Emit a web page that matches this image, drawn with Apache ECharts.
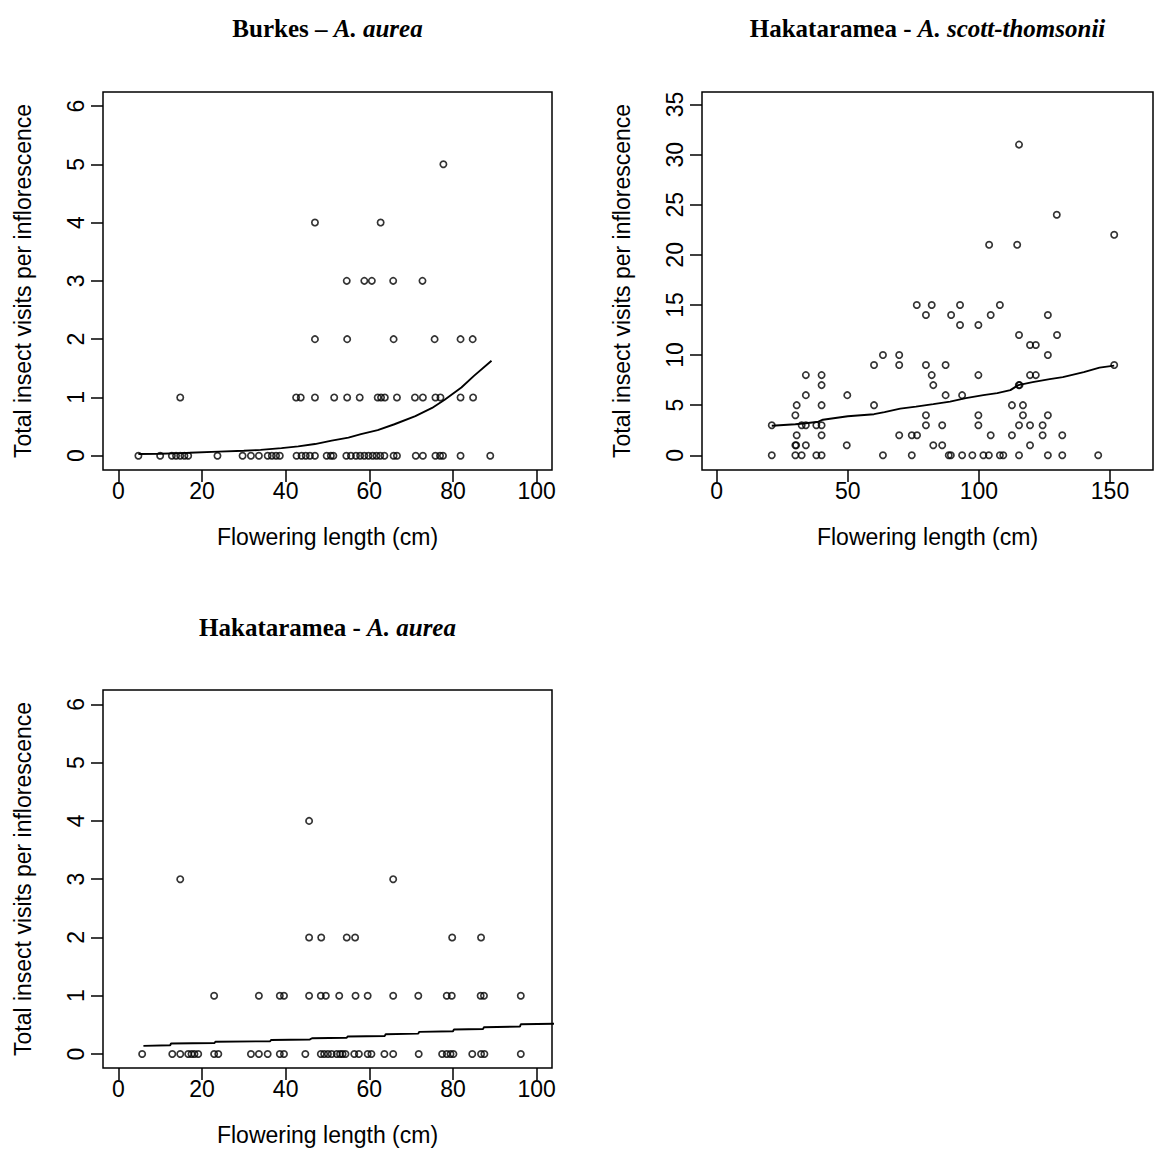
<!DOCTYPE html>
<html><head><meta charset="utf-8">
<script src="https://cdn.jsdelivr.net/npm/echarts@6/dist/echarts.min.js"></script>
<style>html,body{margin:0;padding:0;background:#fff}#c{width:1154px;height:1171px}</style>
</head><body><div id="c"></div>
<script>
// ---------- DATA ----------
// Panel 1: Burkes – A. aurea (flowering length by visit count)
const burkesVisits = [0, 1, 2, 3, 4, 5];
const burkesLengths = [
  [4.8, 10.0, 12.8, 13.8, 14.8, 15.8, 16.7, 23.7, 29.7, 31.7, 33.6, 35.7, 36.7, 37.7, 38.6, 42.6, 43.8, 44.8, 45.8, 47.0, 49.8, 50.8, 51.4, 54.5, 55.6, 56.8, 57.8, 58.8, 59.8, 60.8, 61.7, 62.6, 63.6, 65.8, 66.6, 71.1, 72.8, 75.8, 76.9, 77.6, 81.8, 88.9],
  [14.8, 42.5, 43.6, 47.0, 51.6, 54.7, 57.7, 62.0, 62.8, 63.7, 66.6, 70.9, 72.8, 75.8, 77.0, 81.8, 84.8],
  [47.0, 54.7, 65.8, 75.6, 81.8, 84.7],
  [54.6, 58.8, 60.6, 65.7, 72.7],
  [47.0, 62.7],
  [77.7]
];
const burkesFitX = [4.8, 10, 15, 17, 24, 30, 34, 39, 43, 47, 51, 55, 58, 62, 66, 71, 75, 78, 82, 85, 89.2];
const burkesFitY = [0.03, 0.035, 0.045, 0.05, 0.07, 0.085, 0.1, 0.13, 0.16, 0.2, 0.26, 0.31, 0.37, 0.44, 0.54, 0.68, 0.82, 0.96, 1.17, 1.37, 1.63];

// Panel 2: Hakataramea – A. scott-thomsonii
const scottVisits = [0, 1, 2, 3, 4, 5, 6, 7, 8, 9, 10, 11, 12, 13, 14, 15, 21, 22, 24, 31];
const scottLengths = [
  [21, 30, 32.4, 38, 40, 63.4, 74.4, 88.5, 89.3, 93.6, 97.5, 101.7, 103.8, 108, 109.3, 115.3, 126.3, 131.8, 145.5],
  [30, 30.3, 34, 49.6, 82.6, 86, 119.5],
  [30.5, 40, 69.6, 74.4, 76.4, 104.5, 112.6, 124.3, 131.8],
  [21, 32.4, 34, 38, 40, 79.8, 86, 99.8, 115.3, 119.5, 124.3],
  [30, 79.8, 99.8, 116.8, 126.3],
  [30.5, 40, 60, 112.6, 116.8],
  [34, 49.8, 87.3, 93.6],
  [40, 82.6, 115.2, 115.5],
  [34, 40, 82, 99.8, 119.5, 121.7],
  [60, 69.6, 79.8, 87.3, 151.6],
  [63.4, 69.6, 126.3],
  [119.5, 121.7],
  [115.3, 129.8],
  [92.8, 99.8],
  [79.8, 89.4, 104.5, 126.3],
  [76.3, 82, 92.8, 108],
  [103.9, 114.6],
  [151.6],
  [129.7],
  [115.3]
];
const scottFitX = [21, 30, 34, 38.8, 40.5, 50, 60, 64, 70, 76, 82.6, 89, 95, 101.7, 107, 112, 115, 120.5, 127, 132, 140, 146, 151.6];
const scottFitY = [2.95, 3.1, 3.2, 3.35, 3.55, 3.9, 4.1, 4.3, 4.65, 4.85, 5.1, 5.35, 5.7, 6.0, 6.2, 6.5, 7.0, 7.3, 7.6, 7.8, 8.3, 8.75, 8.95];

// Panel 3: Hakataramea – A. aurea
const hakaVisits = [0, 1, 2, 3, 4];
const hakaLengths = [
  [5.7, 12.9, 14.8, 16.7, 17.5, 18.2, 19.1, 22.9, 23.9, 31.7, 33.6, 35.7, 38.6, 39.6, 44.7, 48.4, 49.2, 50.1, 51.0, 52.2, 53.0, 53.6, 54.3, 56.4, 57.5, 59.6, 60.5, 63.6, 65.7, 71.8, 77.4, 78.5, 79.4, 80.1, 84.6, 86.7, 87.5, 96.2],
  [22.9, 33.6, 38.6, 39.6, 45.6, 48.4, 49.6, 52.8, 56.7, 59.6, 65.7, 71.7, 78.5, 79.7, 86.6, 87.4, 96.2],
  [45.6, 48.5, 54.6, 56.6, 79.8, 86.7],
  [14.8, 65.7],
  [45.6]
];
const hakaFitX = [6, 12.4, 12.6, 23.0, 23.2, 36.3, 36.5, 45.8, 46.3, 54.6, 54.8, 63.7, 63.9, 71.7, 71.9, 80.0, 80.2, 87.2, 87.4, 96.0, 96.2, 104.5];
const hakaFitY = [0.14, 0.15, 0.18, 0.19, 0.21, 0.22, 0.24, 0.25, 0.27, 0.28, 0.30, 0.31, 0.34, 0.35, 0.38, 0.39, 0.42, 0.43, 0.46, 0.47, 0.51, 0.52];

// Tick labels
const xTicksAurea = [0, 20, 40, 60, 80, 100];
const yTicksAurea = [0, 1, 2, 3, 4, 5, 6];
const xTicksScott = [0, 50, 100, 150];
const yTicksScott = [0, 5, 10, 15, 20, 25, 30, 35];

const xTitle = 'Flowering length (cm)';
const yTitle = 'Total insect visits per inflorescence';

// ---------- BUILD ----------
function toPoints(levels, lengths) {
  const out = [];
  levels.forEach((v, i) => lengths[i].forEach(x => out.push([x, v])));
  return out;
}
function zip(xs, ys) { return xs.map((x, i) => [x, ys[i]]); }

const SANS = '"Liberation Sans", Arial, sans-serif';
const SERIF = '"Liberation Serif", "Times New Roman", serif';
const FS = 23;

function grid(left, top, width, height) {
  return { left, top, width, height, show: true, borderColor: '#000', borderWidth: 1.5,
    backgroundColor: 'transparent', containLabel: false, outerBoundsMode: 'none' };
}
function xAxis(gi, min, max, ticks) {
  return { type: 'value', gridIndex: gi, min, max, position: 'bottom',
    axisLine: { show: false, onZero: false },
    axisTick: { show: true, customValues: ticks, length: 12, lineStyle: { color: '#000', width: 1.5 } },
    axisLabel: { customValues: ticks, color: '#000', fontSize: FS, fontFamily: SANS, margin: 9 },
    splitLine: { show: false },
    name: xTitle, nameLocation: 'middle', nameGap: 55, nameMoveOverlap: false,
    nameTextStyle: { color: '#000', fontSize: FS, fontFamily: SANS } };
}
function yAxis(gi, min, max, ticks) {
  return { type: 'value', gridIndex: gi, min, max, position: 'left',
    axisLine: { show: false, onZero: false },
    axisTick: { show: true, customValues: ticks, length: 12, lineStyle: { color: '#000', width: 1.5 } },
    axisLabel: { customValues: ticks, color: '#000', fontSize: FS, fontFamily: SANS, margin: 16, rotate: 90 },
    splitLine: { show: false },
    name: yTitle, nameLocation: 'middle', nameGap: 69, nameMoveOverlap: false,
    nameTextStyle: { color: '#000', fontSize: FS, fontFamily: SANS } };
}
function scatter(gi, data) {
  return { type: 'scatter', xAxisIndex: gi, yAxisIndex: gi, data, symbol: 'circle', symbolSize: 6.3,
    itemStyle: { color: 'rgba(255,255,255,0)', borderColor: '#000', borderWidth: 1.7 },
    silent: true, animation: false };
}
function fitLine(gi, data, clip) {
  return { type: 'line', xAxisIndex: gi, yAxisIndex: gi, data, showSymbol: false, symbol: 'none',
    lineStyle: { color: '#000', width: 1.9 }, clip: clip, silent: true, animation: false };
}
function titleText(x, y, plain, ital) {
  return { type: 'text', x, y, silent: true,
    style: { text: '{b|' + plain + '}{bi|' + ital + '}', align: 'center', verticalAlign: 'middle',
      rich: { b: { fontFamily: SERIF, fontWeight: 'bold', fontSize: 25, fill: '#000' },
              bi: { fontFamily: SERIF, fontWeight: 'bold', fontStyle: 'italic', fontSize: 25, fill: '#000' } } } };
}

const chart = echarts.init(document.getElementById('c'), null, { renderer: 'svg' });
chart.setOption({
  backgroundColor: '#fff',
  animation: false,
  grid: [grid(103, 92, 449, 378), grid(702, 92, 451, 378), grid(103, 690, 449, 378)],
  xAxis: [xAxis(0, -3.66, 103.66, xTicksAurea), xAxis(1, -5.61, 166.4, xTicksScott), xAxis(2, -3.66, 103.66, xTicksAurea)],
  yAxis: [yAxis(0, -0.245, 6.24, yTicksAurea), yAxis(1, -1.47, 36.25, yTicksScott), yAxis(2, -0.24, 6.246, yTicksAurea)],
  series: [
    scatter(0, toPoints(burkesVisits, burkesLengths)),
    fitLine(0, zip(burkesFitX, burkesFitY), true),
    scatter(1, toPoints(scottVisits, scottLengths)),
    fitLine(1, zip(scottFitX, scottFitY), true),
    scatter(2, toPoints(hakaVisits, hakaLengths)),
    fitLine(2, zip(hakaFitX, hakaFitY), false)
  ],
  graphic: [
    titleText(327.5, 28, 'Burkes – ', 'A. aurea'),
    titleText(927.5, 28, 'Hakataramea - ', 'A. scott-thomsonii'),
    titleText(327.5, 627, 'Hakataramea - ', 'A. aurea')
  ]
});
</script></body></html>
